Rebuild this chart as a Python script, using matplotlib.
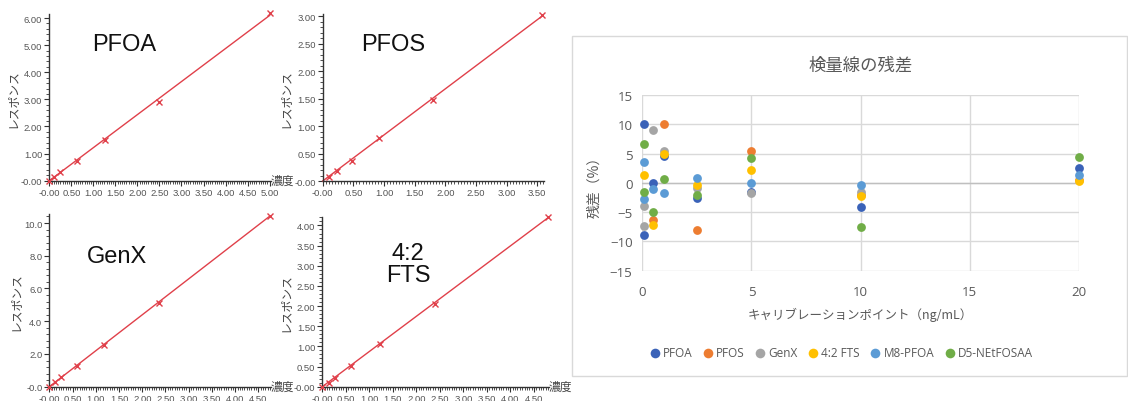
import matplotlib
matplotlib.use("Agg")
import matplotlib.pyplot as plt
import numpy as np
from matplotlib.ticker import MultipleLocator, FuncFormatter
from matplotlib.patches import Rectangle

W, H = 1128, 402
JP = ['Noto Sans CJK JP', 'DejaVu Sans']
NARROW = ['Liberation Sans Narrow', 'Liberation Sans', 'DejaVu Sans']

# ---------------- calibration curve data ----------------
pfoa_conc = [0.0, 0.11, 0.25, 0.63, 1.26, 2.50, 5.00]
pfoa_resp = [0.0, 0.15, 0.31, 0.74, 1.49, 2.91, 6.18]

pfos_conc = [0.11, 0.23, 0.48, 0.92, 1.80, 3.58]
pfos_resp = [0.07, 0.18, 0.36, 0.79, 1.48, 3.02]

genx_conc = [0.0, 0.12, 0.25, 0.60, 1.18, 2.36, 4.74]
genx_resp = [0.0, 0.30, 0.59, 1.28, 2.56, 5.12, 10.45]

fts_conc = [0.0, 0.14, 0.27, 0.62, 1.22, 2.40, 4.79]
fts_resp = [0.0, 0.10, 0.22, 0.52, 1.07, 2.05, 4.21]

# ---------------- residual data ----------------
res_series = ['PFOA', 'PFOS', 'GenX', '4:2 FTS', 'M8-PFOA', 'D5-NEtFOSAA']
res_colors = ['#3A62B8', '#ED7D31', '#A5A5A5', '#FFC000', '#5B9BD5', '#70AD47']

pfoa_x = [0.1, 0.1, 0.5, 1, 2.5, 5, 10, 20]
pfoa_y = [10.0, -8.9, -0.1, 4.6, -2.6, -1.6, -4.1, 2.6]
pfos_x = [0.5, 1, 2.5, 5, 10, 20]
pfos_y = [-6.3, 10.0, -8.0, 5.4, -2.0, 0.5]
genx_x = [0.1, 0.1, 0.5, 1, 2.5, 5, 10]
genx_y = [-3.9, -7.3, 9.0, 5.5, -0.9, -1.7, -1.5]
fts_x = [0.1, 0.5, 1, 2.5, 5, 10, 20]
fts_y = [1.3, -7.2, 4.9, -0.3, 2.2, -2.3, 0.3]
m8_x = [0.1, 0.1, 0.5, 1, 2.5, 5, 10, 20]
m8_y = [3.5, -2.7, -1.0, -1.8, 0.8, 0.0, -0.4, 1.4]
d5_x = [0.1, 0.1, 0.5, 1, 2.5, 5, 10, 20]
d5_y = [6.6, -1.6, -5.0, 0.7, -2.1, 4.2, -7.5, 4.4]

res_x = [pfoa_x, pfos_x, genx_x, fts_x, m8_x, d5_x]
res_y = [pfoa_y, pfos_y, genx_y, fts_y, m8_y, d5_y]

fig = plt.figure(figsize=(W / 100, H / 100), dpi=100)
fig.patch.set_facecolor('white')


def rect(left, top, right, bottom):
    return [left / W, 1 - bottom / H, (right - left) / W, (bottom - top) / H]


RED = '#E0404A'


def cal_panel(box, conc, resp, xlim, ylim, xmaj, ymaj, ymin, yfmt, name, name_xy, show_conc=True):
    ax = fig.add_axes(rect(*box))
    c = np.array(conc)
    r = np.array(resp)
    k = np.sum(c * r) / np.sum(c * c)
    xs = np.array([0.0, c.max()])
    ax.plot(xs, k * xs, color=RED, lw=1.0, clip_on=False, zorder=2)
    ax.plot(c, r, linestyle='none', marker='x', color=RED, ms=4, mew=1.0, clip_on=False, zorder=3)
    ax.set_xlim(*xlim)
    ax.set_ylim(*ylim)
    for s in ['top', 'right']:
        ax.spines[s].set_visible(False)
    for s in ['left', 'bottom']:
        ax.spines[s].set_color('#333333')
        ax.spines[s].set_linewidth(1.0)
    ax.xaxis.set_major_locator(MultipleLocator(xmaj))
    ax.xaxis.set_minor_locator(MultipleLocator(xmaj / 10))
    ax.yaxis.set_major_locator(MultipleLocator(ymaj))
    ax.yaxis.set_minor_locator(MultipleLocator(ymin))

    def fx(v, p):
        if abs(v) < 1e-9:
            return '-0.00'
        return '%.2f' % v

    def fy(v, p):
        if abs(v) < 1e-9:
            return '-' + (yfmt % 0.0)
        return yfmt % v

    ax.xaxis.set_major_formatter(FuncFormatter(fx))
    ax.yaxis.set_major_formatter(FuncFormatter(fy))
    ax.tick_params(axis='both', which='major', length=3.5, width=0.8, color='#333333',
                   labelsize=6.8, labelcolor='#555555', pad=1.5)
    ax.tick_params(axis='both', which='minor', length=2, width=0.6, color='#333333')
    for lab in ax.get_xticklabels() + ax.get_yticklabels():
        lab.set_family(NARROW)
    ax.set_ylabel('レスポンス', family=JP, fontsize=8.5, color='#444444', labelpad=2)
    if show_conc:
        ax.text(1.0, 0.0, '濃度', transform=ax.transAxes, family=JP, fontsize=8.5,
                color='#444444', ha='left', va='center')
    fig.text(name_xy[0] / W, 1 - name_xy[1] / H, name, family=['Liberation Sans', 'DejaVu Sans'],
             fontsize=17, color='#111111', ha='center', va='center', linespacing=1.05)
    return ax


cal_panel((49.3, 15, 270.5, 181.7), pfoa_conc, pfoa_resp, (0, 5.02), (0, 6.15), 0.5, 1.0, 0.2,
          '%.2f', 'PFOA', (124, 45))
cal_panel((322.7, 15, 544, 182), pfos_conc, pfos_resp, (0, 3.61), (0, 3.04), 0.5, 0.5, 0.1,
          '%.2f', 'PFOS', (393, 45), show_conc=False)
cal_panel((49.3, 215, 270.5, 387.7), genx_conc, genx_resp, (0, 4.76), (0, 10.55), 0.5, 2.0, 0.4,
          '%.1f', 'GenX', (117, 257))
cal_panel((322.3, 218, 549, 387.7), fts_conc, fts_resp, (0, 4.82), (0, 4.21), 0.5, 0.5, 0.1,
          '%.2f', '4:2\nFTS', (408, 265))

# ---------------- residual chart ----------------
fig.patches.append(Rectangle((572 / W, 1 - 377 / H), (1127 - 572) / W, (377 - 37) / H,
                             transform=fig.transFigure, fill=False, edgecolor='#D9D9D9', lw=1.0))

ax = fig.add_axes(rect(642.3, 96, 1079, 271.7))
for i, name in enumerate(res_series):
    ax.scatter(res_x[i], res_y[i], s=40, color=res_colors[i], label=name, zorder=3 + i,
               clip_on=False, linewidths=0)
ax.set_xlim(0, 20)
ax.set_ylim(-15, 15)
ax.xaxis.set_major_locator(MultipleLocator(5))
ax.yaxis.set_major_locator(MultipleLocator(5))
ax.grid(True, color='#D9D9D9', lw=1.0, zorder=0)
ax.set_axisbelow(True)
for s in ax.spines.values():
    s.set_visible(False)
ax.axhline(0, color='#BFBFBF', lw=1.0, zorder=1)
ax.tick_params(axis='y', length=0, labelsize=9.5, labelcolor='#595959', pad=7)
ax.tick_params(axis='x', length=0, labelsize=9.5, labelcolor='#595959', pad=10)
for lab in ax.get_xticklabels() + ax.get_yticklabels():
    lab.set_family(['Open Sans', 'DejaVu Sans'])
ax.set_title('検量線の残差', family=JP, fontsize=12.5, color='#595959', pad=18)
ax.set_xlabel('キャリブレーションポイント（ng/mL）', family=JP, fontsize=9, color='#595959',
              labelpad=7)
ax.set_ylabel('残差（%）', family=JP, fontsize=10, color='#595959', labelpad=6)

leg = fig.legend(*ax.get_legend_handles_labels(), loc='center', bbox_to_anchor=(842 / W, 1 - 354 / H),
                 ncol=6, frameon=False, handletextpad=0.4, handlelength=0.6, columnspacing=1.0,
                 borderaxespad=0, prop={'family': ['Open Sans', 'DejaVu Sans'], 'size': 8.5},
                 markerscale=1.1)
for t in leg.get_texts():
    t.set_color('#595959')

fig.savefig('out.png', dpi=100)
